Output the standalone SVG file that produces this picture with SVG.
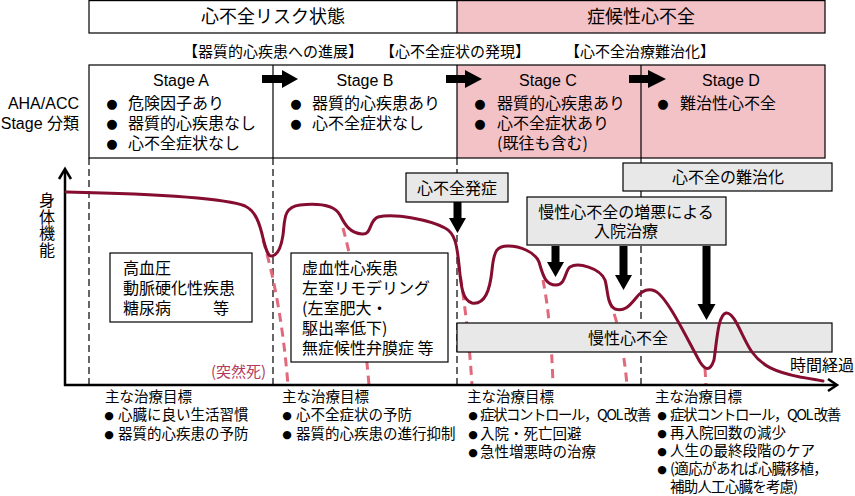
<svg xmlns="http://www.w3.org/2000/svg" width="855" height="496" viewBox="0 0 855 496">
<style>
.t{font-family:"Liberation Sans","Noto Sans CJK JP",sans-serif;fill:#000}
.j{font-family:"Noto Sans CJK JP",sans-serif;fill:#000}
.s18{font-size:18px}.s16{font-size:16px}.s15{font-size:15px}.s14{font-size:14.5px}
.m{text-anchor:middle}.e{text-anchor:end}
.bl{font-family:"DejaVu Sans",sans-serif;text-anchor:middle}
.b13{font-size:13px}.b11{font-size:11px}
.frame{fill:none;stroke:#000;stroke-width:1.2}
.pink{fill:#f3c2c7;stroke:none}
.wbox{fill:#fff;stroke:#000;stroke-width:1.2}
.gbox{fill:#e8e8e8;stroke:#000;stroke-width:1.2}
.vd{stroke:#000;stroke-width:1.2;stroke-dasharray:7 4;fill:none}
.pd{stroke:#e0697b;stroke-width:3;stroke-dasharray:9 6;fill:none}
.curve{fill:none;stroke:#850d30;stroke-width:3;stroke-linejoin:round;stroke-linecap:round}
.arr{fill:#000;stroke:none}
.ax{stroke:#000;stroke-width:2.5;fill:none}
.tight{letter-spacing:-1.5px}
</style>

<g id="header">
  <rect class="pink" x="457" y="0.6" width="368" height="32.4"/>
  <rect class="frame" x="89" y="0.6" width="736" height="32.4"/>
  <line class="frame" x1="457" y1="0.6" x2="457" y2="33"/>
  <text class="j s18 m" x="273" y="23">心不全リスク状態</text>
  <text class="j s18 m" x="641" y="23">症候性心不全</text>
</g>

<g id="phases">
  <text class="j s15 m" x="273" y="57">【器質的心疾患への進展】</text>
  <text class="j s15 m" x="455" y="57">【心不全症状の発現】</text>
  <text class="j s15 m" x="640" y="57">【心不全治療難治化】</text>
</g>

<g id="aha-label">
  <text class="t s16 e" x="79" y="109">AHA/ACC</text>
  <text class="t s16 e" x="79" y="129">Stage 分類</text>
</g>

<g id="stages">
  <rect class="pink" x="457" y="65" width="368" height="93"/>
  <rect class="frame" x="89" y="65" width="736" height="93"/>
  <line class="frame" x1="273" y1="65" x2="273" y2="158"/>
  <line class="frame" x1="457" y1="65" x2="457" y2="158"/>
  <line class="frame" x1="641" y1="65" x2="641" y2="158"/>
</g>

<g id="connectors">
  <line class="vd" x1="89" y1="158" x2="89" y2="385"/>
  <line class="vd" x1="273" y1="158" x2="273" y2="385"/>
  <line class="vd" x1="457" y1="158" x2="457" y2="385"/>
  <line class="vd" x1="641" y1="158" x2="641" y2="385"/>
  <path class="pd" d="M263,240 Q281,300 288,385"/>
  <path class="pd" d="M343,228 Q362,300 369,385"/>
  <path class="pd" d="M458,262 Q468,320 472,385"/>
  <path class="pd" d="M543,280 Q551,320 553,385"/>
  <path class="pd" d="M609,300 Q622,330 627,385"/>
  <path class="pd" d="M705,368 L706,385"/>
  <path class="arr" d="M262,75 H282 V70 L298,79 L282,88 V83 H262 Z"/>
  <path class="arr" d="M446,75 H465 V70 L482,79 L465,88 V83 H446 Z"/>
  <path class="arr" d="M629,75 H648 V70 L666,79 L648,88 V83 H629 Z"/>
</g>

<g id="stageA">
  <text class="t s16 m" x="181" y="86">Stage A</text>
  <text class="j s16" y="109"><tspan class="bl b13" x="112" dy="-1">●</tspan><tspan x="128" dy="1">危険因子あり</tspan></text>
  <text class="j s16" y="129"><tspan class="bl b13" x="112" dy="-1">●</tspan><tspan x="128" dy="1">器質的心疾患なし</tspan></text>
  <text class="j s16" y="149"><tspan class="bl b13" x="112" dy="-1">●</tspan><tspan x="128" dy="1">心不全症状なし</tspan></text>
</g>
<g id="stageB">
  <text class="t s16 m" x="365" y="86">Stage B</text>
  <text class="j s16" y="109"><tspan class="bl b13" x="296" dy="-1">●</tspan><tspan x="312" dy="1">器質的心疾患あり</tspan></text>
  <text class="j s16" y="129"><tspan class="bl b13" x="296" dy="-1">●</tspan><tspan x="312" dy="1">心不全症状なし</tspan></text>
</g>
<g id="stageC">
  <text class="t s16 m" x="548" y="86">Stage C</text>
  <text class="j s16" y="109"><tspan class="bl b13" x="480" dy="-1">●</tspan><tspan x="497" dy="1">器質的心疾患あり</tspan></text>
  <text class="j s16" y="129"><tspan class="bl b13" x="480" dy="-1">●</tspan><tspan x="497" dy="1">心不全症状あり</tspan></text>
  <text class="j s16" x="497" y="149">(既往も含む)</text>
</g>
<g id="stageD">
  <text class="t s16 m" x="731" y="86">Stage D</text>
  <text class="j s16" y="109"><tspan class="bl b13" x="663" dy="-1">●</tspan><tspan x="680" dy="1">難治性心不全</tspan></text>
</g>

<g id="axes">
  <line class="ax" x1="65" y1="170" x2="65" y2="386"/>
  <path class="ax" d="M59,179 L65,169 L71,179" stroke-width="2"/>
  <line class="ax" x1="64" y1="385" x2="836" y2="385"/>
  <path class="ax" d="M828,379 L837,385 L828,391" stroke-width="2"/>
  <text class="j s16" x="47" y="192" writing-mode="vertical-rl" style="letter-spacing:0.7px">身体機能</text>
  <text class="j s16" x="790" y="371">時間経過</text>
</g>

<g id="riskbox">
  <rect class="wbox" x="110" y="253" width="142" height="69"/>
  <text class="j s16" x="123" y="274">高血圧</text>
  <text class="j s16" x="123" y="294">動脈硬化性疾患</text>
  <text class="j s16" x="123" y="314">糖尿病<tspan x="213">等</tspan></text>
</g>

<g id="structbox">
  <rect class="wbox" x="291" y="253" width="157" height="109"/>
  <text class="j s16" x="302" y="274">虚血性心疾患</text>
  <text class="j s16" x="302" y="294">左室リモデリング</text>
  <text class="j s16" x="302" y="314">(左室肥大・</text>
  <text class="j s16" x="302" y="334">駆出率低下)</text>
  <text class="j s16" x="302" y="354">無症候性弁膜症 等</text>
</g>

<g id="chronic">
  <rect class="gbox" x="457" y="323" width="375" height="29"/>
  <text class="j s16 m" x="628" y="344">慢性心不全</text>
</g>

<g id="onset">
  <rect class="gbox" x="406" y="173" width="102" height="29"/>
  <text class="j s16 m" x="457" y="194">心不全発症</text>
</g>

<g id="refractory">
  <rect class="gbox" x="623" y="163" width="209" height="28"/>
  <text class="j s16 m" x="728" y="183">心不全の難治化</text>
</g>

<g id="admission">
  <rect class="gbox" x="527" y="197" width="199" height="48"/>
  <text class="j s16 m" x="626" y="218">慢性心不全の増悪による</text>
  <text class="j s16 m" x="626" y="237">入院治療</text>
</g>

<g id="curve">
  <path class="curve" d="M66,192 C160,194 225,198 245,206 C256,211 260,225 263,238 C266,250 268,257 272,256 C278,255 281,248 283,235 C285,220 283,207 300,205 C320,203 335,206 340,215 C345,225 350,233 362,234 C372,235 369,220 378,217 C395,213 430,220 445,228 C455,233 457,245 459,265 C461,285 462,300 472,303 C485,305 490,290 492,270 C494,250 497,246 508,246 C520,246 535,252 539,262 C543,275 545,285 556,285 C566,285 565,270 570,267 C578,262 600,268 605,280 C608,290 607,305 615,309 C625,312 630,305 636,298 C642,290 648,288 655,291 C668,297 690,345 700,362 C705,370 710,372 714,360 C717,340 718,315 726,313 C735,312 742,338 752,352 C762,366 775,372 800,377 C812,379 818,380 823,381"/>
  <text class="j s15" x="211" y="377" style="fill:#b23a5e">(突然死)</text>
</g>

<g id="downarrows">
  <path class="arr" d="M453.5,202 V218 H449 L457.5,233 L466,218 H461.5 V202 Z"/>
  <path class="arr" d="M551.5,246 V262 H547 L555.5,277 L564,262 H559.5 V246 Z"/>
  <path class="arr" d="M619.5,246 V275 H615 L623.5,290 L632,275 H627.5 V246 Z"/>
  <path class="arr" d="M702.5,246 V304 H697.5 L706.5,320 L715.5,304 H710.5 V246 Z"/>
</g>

<g id="goalsA">
  <text class="j s14" x="105" y="402">主な治療目標</text>
  <text class="j s14" y="420"><tspan class="bl b11" x="109" dy="-1">●</tspan><tspan x="118" dy="1">心臓に良い生活習慣</tspan></text>
  <text class="j s14" y="439"><tspan class="bl b11" x="109" dy="-1">●</tspan><tspan x="118" dy="1">器質的心疾患の予防</tspan></text>
</g>
<g id="goalsB">
  <text class="j s14" x="282" y="402">主な治療目標</text>
  <text class="j s14" y="420"><tspan class="bl b11" x="287" dy="-1">●</tspan><tspan x="296" dy="1">心不全症状の予防</tspan></text>
  <text class="j s14" y="439"><tspan class="bl b11" x="287" dy="-1">●</tspan><tspan x="296" dy="1">器質的心疾患の進行抑制</tspan></text>
</g>
<g id="goalsC">
  <text class="j s14" x="467" y="402">主な治療目標</text>
  <text class="j s14" y="420"><tspan class="bl b11" x="473" dy="-1">●</tspan><tspan class="tight" x="480" dy="1">症状コントロール，QOL 改善</tspan></text>
  <text class="j s14" y="439"><tspan class="bl b11" x="473" dy="-1">●</tspan><tspan x="480" dy="1">入院・死亡回避</tspan></text>
  <text class="j s14" y="457"><tspan class="bl b11" x="473" dy="-1">●</tspan><tspan x="480" dy="1">急性増悪時の治療</tspan></text>
</g>
<g id="goalsD">
  <text class="j s14" x="655" y="402">主な治療目標</text>
  <text class="j s14" y="420"><tspan class="bl b11" x="662" dy="-1">●</tspan><tspan class="tight" x="670" dy="1">症状コントロール，QOL 改善</tspan></text>
  <text class="j s14" y="438"><tspan class="bl b11" x="662" dy="-1">●</tspan><tspan x="670" dy="1">再入院回数の減少</tspan></text>
  <text class="j s14" y="456"><tspan class="bl b11" x="662" dy="-1">●</tspan><tspan x="670" dy="1">人生の最終段階のケア</tspan></text>
  <text class="j s14" y="474"><tspan class="bl b11" x="662" dy="-1">●</tspan><tspan x="670" dy="1" style="letter-spacing:-0.6px">(適応があれば心臓移植，</tspan></text>
  <text class="j s14" x="670" y="492" style="letter-spacing:-0.8px">補助人工心臓を考慮)</text>
</g>
</svg>
